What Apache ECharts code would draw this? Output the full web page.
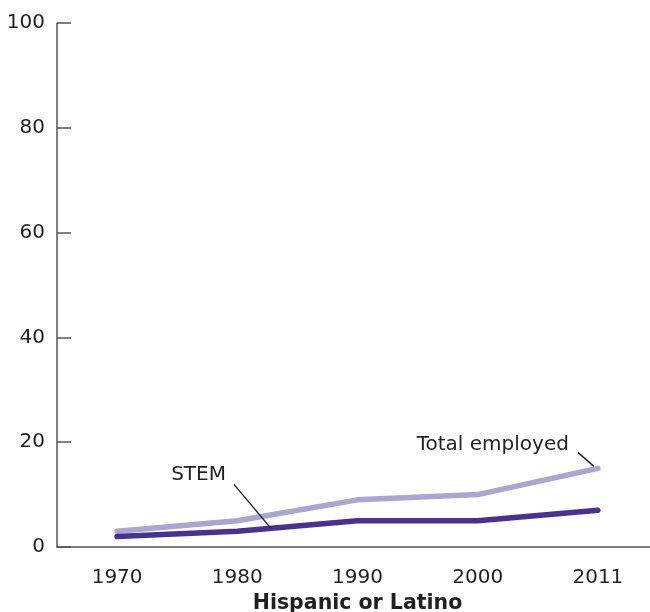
<!DOCTYPE html>
<html><head><meta charset="utf-8">
<script src="https://cdn.jsdelivr.net/npm/echarts@6/dist/echarts.min.js"></script>
<style>html,body{margin:0;padding:0;background:#fff}#c{width:650px;height:612px}</style>
</head><body><div id="c"></div>
<script>
const years = ['1970','1980','1990','2000','2011'];
const totalEmployed = [3, 5, 9, 10, 15];
const stem = [2, 3, 5, 5, 7];
const yTicks = [0, 20, 40, 60, 80, 100];
const xTitle = 'Hispanic or Latino';
const FONT = 'DejaVu Sans';
const TXT = '#231f20';
const AX = '#555555';

const chart = echarts.init(document.getElementById('c'), null, {renderer: 'canvas'});
chart.setOption({
  animation: false,
  textStyle: {fontFamily: FONT},
  grid: {left: 57, top: 23, bottom: 65, width: 601, containLabel: false, outerBoundsMode: 'none'},
  xAxis: {
    type: 'category', data: years, boundaryGap: true,
    name: xTitle, nameLocation: 'middle', nameGap: 40,
    nameTextStyle: {fontFamily: FONT, fontWeight: 'bold', fontSize: 20.5, color: TXT},
    axisLine: {lineStyle: {color: AX, width: 1.5}},
    axisTick: {inside: true, length: 9, alignWithLabel: true, lineStyle: {color: AX, width: 1.5}},
    axisLabel: {fontFamily: FONT, fontSize: 20, color: TXT, margin: 21}
  },
  yAxis: {
    type: 'value', min: yTicks[0], max: yTicks[yTicks.length-1], interval: 20,
    axisLine: {show: true, lineStyle: {color: AX, width: 1.5}},
    axisTick: {show: true, inside: true, length: 14, lineStyle: {color: AX, width: 1.5}},
    axisLabel: {fontFamily: FONT, fontSize: 20, color: TXT, margin: 12},
    splitLine: {show: false}
  },
  series: [
    {name: 'Total employed', type: 'line', data: totalEmployed, showSymbol: false, symbol: 'none',
     lineStyle: {color: '#aaa5d1', width: 5.5, cap: 'round'}, z: 2},
    {name: 'STEM', type: 'line', data: stem, showSymbol: false, symbol: 'none',
     lineStyle: {color: '#473192', width: 5.5, cap: 'round'}, z: 3}
  ]
});

// annotations anchored to data positions
const pT = chart.convertToPixel({seriesIndex: 0}, [4, totalEmployed[4]]);
const p1 = chart.convertToPixel({seriesIndex: 1}, [1, stem[1]]);
const p2 = chart.convertToPixel({seriesIndex: 1}, [2, stem[2]]);
const f = 0.28;
const sx = p1[0] + (p2[0]-p1[0])*f, sy = p1[1] + (p2[1]-p1[1])*f;
chart.setOption({
  graphic: [
    {type: 'line', shape: {x1: pT[0]-20, y1: pT[1]-16, x2: pT[0]-4, y2: pT[1]-2}, style: {stroke: TXT, lineWidth: 1.4}, z: 10},
    {type: 'text', style: {text: 'Total employed', x: pT[0]-29, y: pT[1]-24, textAlign: 'right', textVerticalAlign: 'middle', font: '20px "DejaVu Sans"', fill: TXT}, z: 10},
    {type: 'line', shape: {x1: sx-37, y1: sy-44, x2: sx, y2: sy}, style: {stroke: TXT, lineWidth: 1.4}, z: 10},
    {type: 'text', style: {text: 'STEM', x: sx-45, y: sy-54, textAlign: 'right', textVerticalAlign: 'middle', font: '20px "DejaVu Sans"', fill: TXT}, z: 10}
  ]
});
</script></body></html>
